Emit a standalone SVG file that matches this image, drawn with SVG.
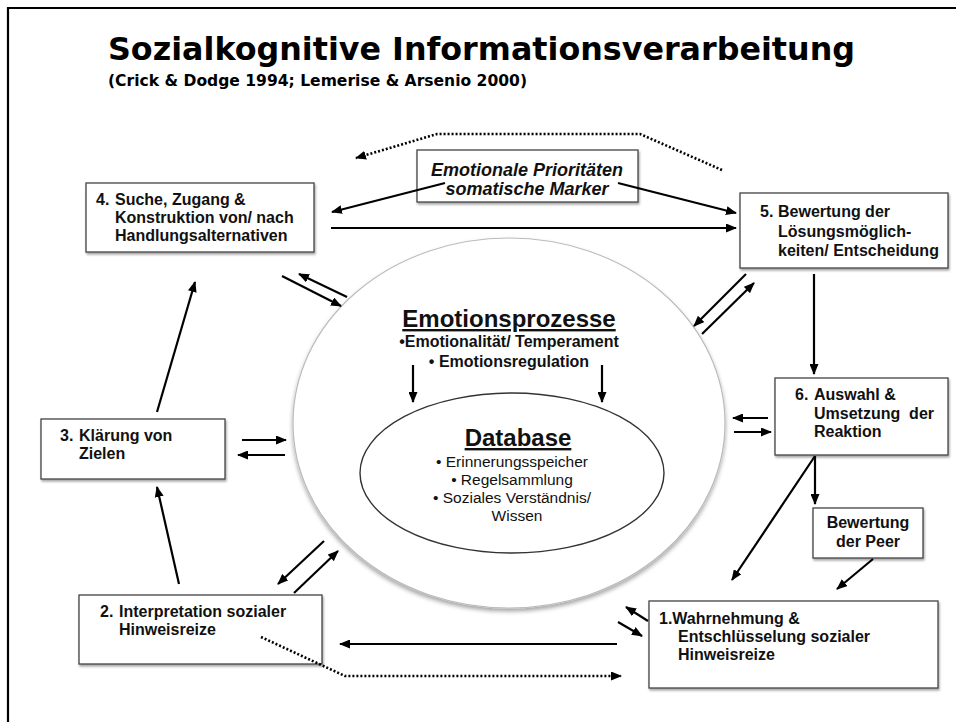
<svg xmlns="http://www.w3.org/2000/svg" width="956" height="722" viewBox="0 0 956 722">
<defs>
<style>
.box{fill:#fff;stroke:#444;stroke-width:1.3;filter:url(#sh)}
.t{font-family:"Liberation Sans",Arial,sans-serif;font-weight:bold;font-size:16px;fill:#111}
.ti{font-family:"Liberation Sans",Arial,sans-serif;font-weight:bold;font-style:italic;font-size:18px;fill:#111}
.r{font-family:"Liberation Sans",Arial,sans-serif;font-size:15.5px;fill:#111}
.c{stroke:#000;stroke-width:2.2;fill:none}
.d{stroke:#000;stroke-width:2.6;fill:none;stroke-dasharray:2 2}
</style>
<filter id="sh" x="-10%" y="-10%" width="130%" height="140%">
<feDropShadow dx="1" dy="2" stdDeviation="1.3" flood-color="#000" flood-opacity="0.35"/>
</filter>
<filter id="esh" x="-10%" y="-10%" width="130%" height="130%">
<feDropShadow dx="0" dy="3" stdDeviation="2" flood-color="#000" flood-opacity="0.35"/>
</filter>
<marker id="ah" markerUnits="userSpaceOnUse" markerWidth="11" markerHeight="9" refX="10" refY="4.5" orient="auto">
<path d="M0,0 L11,4.5 L0,9 z" fill="#000"/>
</marker>
</defs>
<rect width="956" height="722" fill="#fff"/>
<path d="M8,722 V8 H956" fill="none" stroke="#000" stroke-width="2.2"/>
<text x="108" y="60" font-family="DejaVu Sans,Verdana,sans-serif" font-weight="bold" font-size="32" textLength="747" lengthAdjust="spacingAndGlyphs" fill="#000">Sozialkognitive Informationsverarbeitung</text>
<text x="108" y="86" font-family="DejaVu Sans,Verdana,sans-serif" font-weight="bold" font-size="16" textLength="419" lengthAdjust="spacingAndGlyphs" fill="#000">(Crick &amp; Dodge 1994; Lemerise &amp; Arsenio 2000)</text>

<g id="emotion">
<ellipse cx="509" cy="423" rx="216" ry="185" fill="#fff" stroke="#bbb" stroke-width="1.2" filter="url(#esh)"/>
<text x="509" y="327" text-anchor="middle" font-family="Liberation Sans,Arial,sans-serif" font-weight="bold" font-size="24" text-decoration="underline" fill="#111">Emotionsprozesse</text>
<text class="t" x="509" y="347" text-anchor="middle" font-size="15">•Emotionalität/ Temperament</text>
<text class="t" x="509" y="367" text-anchor="middle" font-size="15">• Emotionsregulation</text>
</g>
<g id="database">
<ellipse cx="512" cy="473" rx="152" ry="80" fill="#fff" stroke="#333" stroke-width="1.4"/>
<text x="518" y="446" text-anchor="middle" font-family="Liberation Sans,Arial,sans-serif" font-weight="bold" font-size="24" text-decoration="underline" fill="#111">Database</text>
<text class="r" x="512" y="467" text-anchor="middle">• Erinnerungsspeicher</text>
<text class="r" x="512" y="485" text-anchor="middle">• Regelsammlung</text>
<text class="r" x="512" y="503" text-anchor="middle">• Soziales Verständnis/</text>
<text class="r" x="517" y="521" text-anchor="middle">Wissen</text>
</g>

<g id="n4">
<rect class="box" x="86" y="183" width="228" height="69"/>
<text class="t" x="96" y="205">4.</text>
<text class="t" x="115" y="205">Suche, Zugang &amp;</text>
<text class="t" x="115" y="223">Konstruktion von/ nach</text>
<text class="t" x="115" y="241">Handlungsalternativen</text>
</g>
<g id="prio">
<rect class="box" x="417" y="150" width="221" height="52"/>
<text class="ti" x="527" y="176" text-anchor="middle">Emotionale Prioritäten</text>
<text class="ti" x="527" y="195" text-anchor="middle">somatische Marker</text>
</g>
<g id="n5">
<rect class="box" x="740" y="193" width="208" height="75"/>
<text class="t" x="760" y="217">5.</text>
<text class="t" x="778" y="217">Bewertung der</text>
<text class="t" x="778" y="237">Lösungsmöglich-</text>
<text class="t" x="778" y="256">keiten/ Entscheidung</text>
</g>
<g id="n6">
<rect class="box" x="775" y="378" width="173" height="77"/>
<text class="t" x="795" y="400">6.</text>
<text class="t" x="814" y="400">Auswahl &amp;</text>
<text class="t" x="814" y="419" xml:space="preserve">Umsetzung  der</text>
<text class="t" x="814" y="437">Reaktion</text>
</g>
<g id="peer">
<rect class="box" x="813" y="508" width="110" height="50"/>
<text class="t" x="868" y="528" text-anchor="middle">Bewertung</text>
<text class="t" x="868" y="547" text-anchor="middle">der Peer</text>
</g>
<g id="n1">
<rect class="box" x="649" y="601" width="289" height="87"/>
<text class="t" x="659" y="624">1.Wahrnehmung &amp;</text>
<text class="t" x="678" y="642">Entschlüsselung sozialer</text>
<text class="t" x="678" y="660">Hinweisreize</text>
</g>
<g id="n2">
<rect class="box" x="79" y="595" width="243" height="69"/>
<text class="t" x="100" y="617">2.</text>
<text class="t" x="119" y="617">Interpretation sozialer</text>
<text class="t" x="119" y="635">Hinweisreize</text>
</g>
<g id="n3">
<rect class="box" x="41" y="419" width="184" height="60"/>
<text class="t" x="60" y="441">3.</text>
<text class="t" x="79" y="441">Klärung von</text>
<text class="t" x="79" y="459">Zielen</text>
</g>

<g id="connectors">
<path class="d" d="M722,170 L640,134 L437,134 L356,158" marker-end="url(#ah)"/>
<path class="d" d="M261,637 L345,676 L621,676" marker-end="url(#ah)"/>
<line class="c" x1="445" y1="183" x2="332" y2="212" marker-end="url(#ah)"/>
<line class="c" x1="618" y1="183" x2="736" y2="213" marker-end="url(#ah)"/>
<line class="c" x1="331" y1="228" x2="736" y2="228" marker-end="url(#ah)"/>
<line class="c" x1="282" y1="276" x2="341" y2="306" marker-end="url(#ah)"/>
<line class="c" x1="347" y1="297" x2="299" y2="274" marker-end="url(#ah)"/>
<line class="c" x1="746" y1="274" x2="694" y2="326" marker-end="url(#ah)"/>
<line class="c" x1="702" y1="334" x2="754" y2="283" marker-end="url(#ah)"/>
<line class="c" x1="814" y1="274" x2="814" y2="374" marker-end="url(#ah)"/>
<line class="c" x1="413" y1="365" x2="413" y2="402" marker-end="url(#ah)"/>
<line class="c" x1="602" y1="365" x2="602" y2="402" marker-end="url(#ah)"/>
<line class="c" x1="768" y1="418" x2="733" y2="418" marker-end="url(#ah)"/>
<line class="c" x1="734" y1="432" x2="771" y2="432" marker-end="url(#ah)"/>
<line class="c" x1="815" y1="456" x2="815" y2="504" marker-end="url(#ah)"/>
<line class="c" x1="815" y1="456" x2="732" y2="580" marker-end="url(#ah)"/>
<line class="c" x1="873" y1="559" x2="837" y2="589" marker-end="url(#ah)"/>
<line class="c" x1="648" y1="621" x2="626" y2="607" marker-end="url(#ah)"/>
<line class="c" x1="618" y1="622" x2="642" y2="636" marker-end="url(#ah)"/>
<line class="c" x1="617" y1="644" x2="340" y2="644" marker-end="url(#ah)"/>
<line class="c" x1="324" y1="541" x2="278" y2="584" marker-end="url(#ah)"/>
<line class="c" x1="294" y1="593" x2="338" y2="551" marker-end="url(#ah)"/>
<line class="c" x1="179" y1="584" x2="157" y2="487" marker-end="url(#ah)"/>
<line class="c" x1="157" y1="412" x2="195" y2="282" marker-end="url(#ah)"/>
<line class="c" x1="242" y1="440" x2="286" y2="440" marker-end="url(#ah)"/>
<line class="c" x1="285" y1="455" x2="238" y2="455" marker-end="url(#ah)"/>
</g>
</svg>
